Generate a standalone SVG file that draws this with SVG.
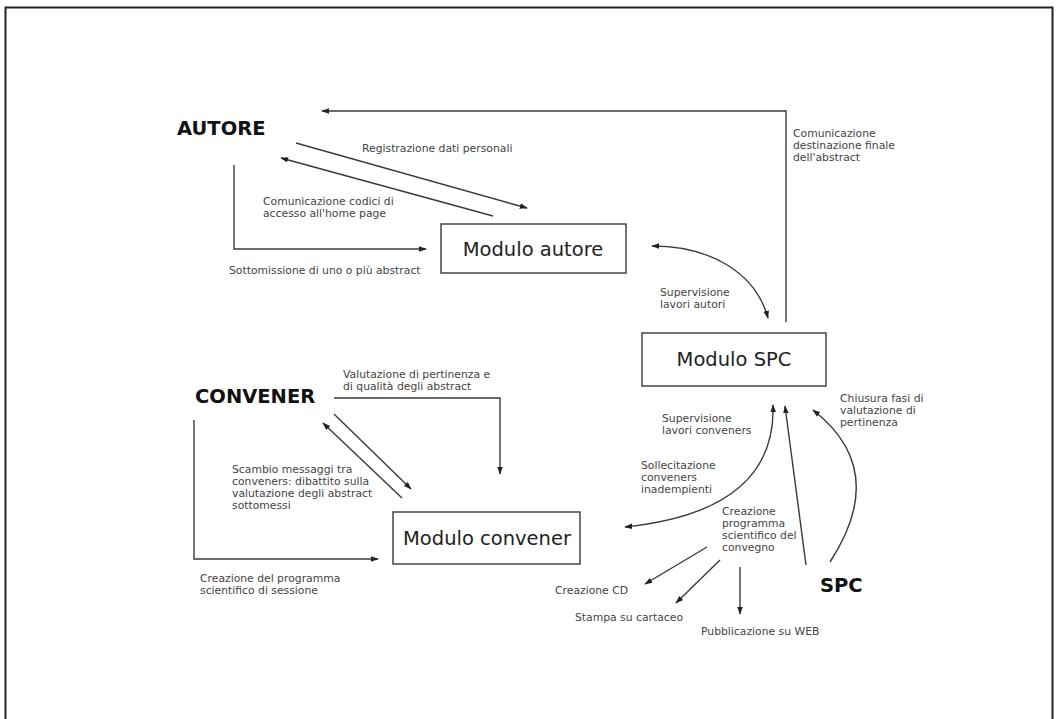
<svg xmlns="http://www.w3.org/2000/svg" width="1058" height="719" viewBox="0 0 1058 719">
<style>
.c{fill:none;stroke:#3a3a3a;stroke-width:1.4}
.ar{marker-end:url(#ah)}
.as{marker-start:url(#ah)}
.t{font-family:"DejaVu Sans",Verdana,sans-serif;font-size:10.8px;fill:#444}
.b{font-family:"DejaVu Sans",Verdana,sans-serif;font-size:19.5px;font-weight:bold;fill:#111}
.m{font-family:"DejaVu Sans",Verdana,sans-serif;font-size:19.5px;fill:#222;text-anchor:middle}
.box{fill:#fff;stroke:#444;stroke-width:1.5}
</style>
<defs>
<marker id="ah" viewBox="0 0 10 10" refX="9" refY="5" markerWidth="8" markerHeight="8" orient="auto-start-reverse" markerUnits="userSpaceOnUse"><path d="M0,1.5 L10,5 L0,8.5 z" fill="#222"/></marker>
</defs>
<rect x="0" y="0" width="1058" height="719" fill="#fff"/>
<rect x="5.5" y="7.5" width="1047" height="730" fill="none" stroke="#222" stroke-width="2"/>

<g id="connectors">
<polyline class="c ar" points="786,322 786,111 322,111"/>
<line class="c ar" x1="296" y1="143" x2="527" y2="208"/>
<line class="c ar" x1="493" y1="216" x2="281" y2="158"/>
<polyline class="c ar" points="234,165 234,249 426,249"/>
<path class="c ar as" d="M652,246 C712,246 756,274 768,318"/>
<polyline class="c ar" points="334,398 500,398 500,474"/>
<line class="c ar" x1="334" y1="414" x2="411" y2="489"/>
<line class="c ar" x1="402" y1="498" x2="323" y2="423"/>
<polyline class="c ar" points="194,420 194,559 378,559"/>
<path class="c ar as" d="M773,405 C775,465 740,515 625,527"/>
<line class="c ar" x1="806" y1="565" x2="785" y2="406"/>
<path class="c ar" d="M830,562 Q890,470 813,410"/>
<line class="c ar" x1="707" y1="547" x2="645" y2="584"/>
<line class="c ar" x1="720" y1="560" x2="676" y2="603"/>
<line class="c ar" x1="740" y1="567" x2="740" y2="614"/>
</g>

<g id="autore"><text class="b" x="177" y="135">AUTORE</text></g>
<g id="convener"><text class="b" x="195" y="403">CONVENER</text></g>
<g id="spc"><text class="b" x="820" y="592">SPC</text></g>

<g id="modulo-autore">
<rect class="box" x="441" y="224" width="185" height="49"/>
<text class="m" x="533" y="256">Modulo autore</text>
</g>
<g id="modulo-spc">
<rect class="box" x="642" y="333" width="184" height="53"/>
<text class="m" x="734" y="366">Modulo SPC</text>
</g>
<g id="modulo-convener">
<rect class="box" x="393" y="512" width="187" height="52"/>
<text class="m" x="487" y="545">Modulo convener</text>
</g>

<g id="labels">
<text class="t" x="362" y="152">Registrazione dati personali</text>
<text class="t" x="263" y="205">Comunicazione codici di</text>
<text class="t" x="263" y="217">accesso all'home page</text>
<text class="t" x="229" y="274">Sottomissione di uno o più abstract</text>
<text class="t" x="793" y="137">Comunicazione</text>
<text class="t" x="793" y="149">destinazione finale</text>
<text class="t" x="793" y="161">dell'abstract</text>
<text class="t" x="660" y="296">Supervisione</text>
<text class="t" x="660" y="308">lavori autori</text>
<text class="t" x="343" y="378">Valutazione di pertinenza e</text>
<text class="t" x="343" y="390">di qualità degli abstract</text>
<text class="t" x="232" y="473">Scambio messaggi tra</text>
<text class="t" x="232" y="485">conveners: dibattito sulla</text>
<text class="t" x="232" y="497">valutazione degli abstract</text>
<text class="t" x="232" y="509">sottomessi</text>
<text class="t" x="200" y="582">Creazione del programma</text>
<text class="t" x="200" y="594">scientifico di sessione</text>
<text class="t" x="662" y="422">Supervisione</text>
<text class="t" x="662" y="434">lavori conveners</text>
<text class="t" x="641" y="469">Sollecitazione</text>
<text class="t" x="641" y="481">conveners</text>
<text class="t" x="641" y="493">inadempienti</text>
<text class="t" x="840" y="402">Chiusura fasi di</text>
<text class="t" x="840" y="414">valutazione di</text>
<text class="t" x="840" y="426">pertinenza</text>
<text class="t" x="722" y="515">Creazione</text>
<text class="t" x="722" y="527">programma</text>
<text class="t" x="722" y="539">scientifico del</text>
<text class="t" x="722" y="551">convegno</text>
<text class="t" x="555" y="594">Creazione CD</text>
<text class="t" x="575" y="621">Stampa su cartaceo</text>
<text class="t" x="701" y="635">Pubblicazione su WEB</text>
</g>
</svg>
